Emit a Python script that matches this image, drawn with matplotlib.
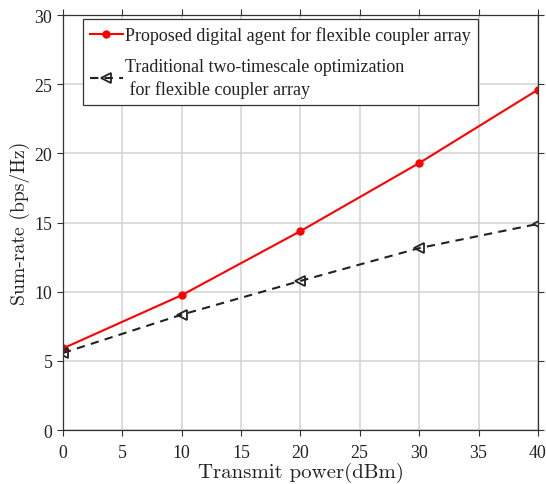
import matplotlib
matplotlib.use("Agg")
import matplotlib.pyplot as plt

# Transmit power sweep and achieved sum-rate for both schemes
power_dbm = [0, 10, 20, 30, 40]
rate_proposed = [5.9, 9.75, 14.38, 19.3, 24.6]
rate_traditional = [5.57, 8.34, 10.78, 13.15, 14.9]

label_proposed = "Proposed digital agent for flexible coupler array"
label_traditional = "Traditional two-timescale optimization\n for flexible coupler array"
xlabel = "Transmit power(dBm)"
ylabel = "Sum-rate (bps/Hz)"


def main():
    plt.rcParams["font.family"] = ["Liberation Serif", "DejaVu Serif"]
    plt.rcParams["axes.formatter.use_mathtext"] = True

    fig = plt.figure(figsize=(5.46, 4.85), dpi=100)
    ax = fig.add_axes([0.1154, 0.1113, 0.8699, 0.8557])

    ax.plot(power_dbm, rate_proposed, "-", color="red", lw=1.5,
            marker="o", ms=5, label=label_proposed)
    ax.plot(power_dbm, rate_traditional, "--", color="#222222", lw=1.5,
            marker="<", ms=7, mfc="none", mew=1.3, dashes=(4, 3),
            label=label_traditional)

    ax.set_xlim(0, 40)
    ax.set_ylim(0, 30)
    ax.set_xticks(range(0, 41, 5))
    ax.set_yticks(range(0, 31, 5))
    ax.grid(True, color="#d3d3d3", lw=1.1)
    ax.set_axisbelow(True)
    ax.tick_params(direction="out", top=True, right=True, labelsize=12.8,
                   length=4, color="#333333", labelcolor="#222222")
    ax.tick_params(axis="x", pad=6)
    ax.tick_params(axis="y", pad=3)
    for s in ax.spines.values():
        s.set_color("#333333")
        s.set_linewidth(0.9)

    ax.set_xlabel(xlabel, fontsize=15, family="cmr10", labelpad=1,
                  color="#222222")
    ax.set_ylabel(ylabel, fontsize=14.2, family="cmr10", labelpad=3,
                  color="#222222")

    leg = ax.legend(loc="upper left", bbox_to_anchor=(0.042, 0.99),
                    borderaxespad=0, fontsize=13.0, fancybox=False,
                    framealpha=1, edgecolor="#333333",
                    handlelength=1.8, labelspacing=0.75, handletextpad=0.12,
                    borderpad=0.4)
    leg.get_frame().set_linewidth(0.9)
    for t in leg.get_texts():
        t.set_color("#222222")
        t.set_linespacing(1.4)

    fig.savefig("out.png", dpi=100)


if __name__ == "__main__":
    main()
